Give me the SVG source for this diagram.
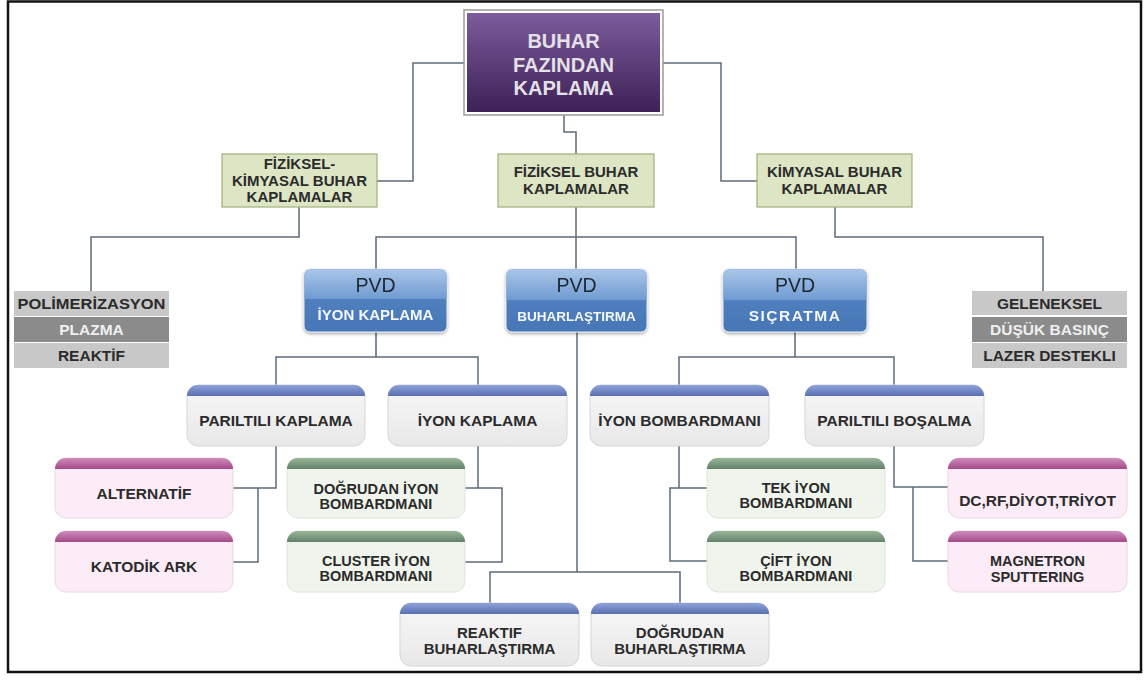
<svg xmlns="http://www.w3.org/2000/svg" width="1145" height="684" viewBox="0 0 1145 684">
<defs>
<linearGradient id="gPurple" x1="0" y1="0" x2="0" y2="1"><stop offset="0" stop-color="#7c5c9c"/><stop offset="1" stop-color="#3e2157"/></linearGradient>
<linearGradient id="gPvdTop" x1="0" y1="0" x2="0" y2="1"><stop offset="0" stop-color="#a9c5e8"/><stop offset="1" stop-color="#6f9bd2"/></linearGradient>
<linearGradient id="gPvdBot" x1="0" y1="0" x2="0" y2="1"><stop offset="0" stop-color="#5888c6"/><stop offset="1" stop-color="#4776b6"/></linearGradient>
<linearGradient id="gBody" x1="0" y1="0" x2="0" y2="1"><stop offset="0" stop-color="#f7f7f7"/><stop offset="1" stop-color="#e8e8e8"/></linearGradient>
<linearGradient id="gBlue" x1="0" y1="0" x2="0" y2="1"><stop offset="0" stop-color="#8ea2da"/><stop offset="1" stop-color="#5a6fb0"/></linearGradient>
<linearGradient id="gPink" x1="0" y1="0" x2="0" y2="1"><stop offset="0" stop-color="#cf8bbd"/><stop offset="1" stop-color="#a44a88"/></linearGradient>
<linearGradient id="gGreen" x1="0" y1="0" x2="0" y2="1"><stop offset="0" stop-color="#98b598"/><stop offset="1" stop-color="#62826a"/></linearGradient>
<filter id="sh" x="-10%" y="-10%" width="120%" height="130%"><feDropShadow dx="0" dy="1.5" stdDeviation="1.5" flood-color="#000" flood-opacity="0.35"/></filter>
<style>
text{font-family:"Liberation Sans",Arial,sans-serif;font-weight:bold;text-anchor:middle;fill:#2b2b2b}
.t20{font-size:20px;fill:#e4e2e8}
.t15{font-size:15.5px}
.t14{font-size:14.5px}
.pvd{font-size:19.5px;font-weight:normal;fill:#1b2533}
.sub{fill:#f4f7fb}
.green{fill:#dde6c4;stroke:#a0b078;stroke-width:1.2}
.lg{fill:#c8c8c8}
.dg{fill:#8b8b8b}
.lt{fill:#f0f0f0}
.body{fill:url(#gBody);stroke:#d5d5d5;stroke-width:1}
.pbody{fill:#fcecf8;stroke:#ead8e4;stroke-width:1}
.gbody{fill:#eff5ec;stroke:#dde6da;stroke-width:1}
.sb{fill:url(#gBlue)}
.sp{fill:url(#gPink)}
.sg{fill:url(#gGreen)}
.pvdbox{fill:url(#gPvdBot);stroke:#e4ecf6;stroke-width:1}
.conn path{fill:none;stroke:#5c6b7a;stroke-width:1.5}
</style>
</defs>
<rect x="0" y="0" width="1145" height="684" fill="#fff"/>
<rect x="8" y="1.5" width="1133" height="670.5" fill="none" stroke="#111" stroke-width="2.5"/>

<g class="conn" id="connectors">
<path d="M464,63 H413 V181 H377"/>
<path d="M663,63 H721 V181 H757"/>
<path d="M564,115 V132 H576 V154"/>
<path d="M299,207 V237 H91 V291"/>
<path d="M576,207 V269 M376,269 V237 H796 V269"/>
<path d="M835,207 V237 H1043 V291"/>
<path d="M376,332 V357 M276,385 V357 H478 V385"/>
<path d="M795,332 V357 M679,385 V357 H894 V385"/>
<path d="M577,332 V572 M490,603 V572 H680 V603"/>
<path d="M276,446 V488 H233 M258,488 V562 H233"/>
<path d="M478,446 V488 H465 M478,488 H502 V562 H465"/>
<path d="M679,446 V488 H707 M679,488 H670 V561 H707"/>
<path d="M894,446 V487 H948 M913,487 V561 H948"/>
</g>

<g id="root">
<rect x="464" y="10" width="199" height="105" fill="#fff" stroke="#9a9a9a" stroke-width="1.5"/>
<rect x="467" y="13" width="193" height="99" fill="url(#gPurple)"/>
<text class="t20" x="563.5" y="48">BUHAR</text>
<text class="t20" x="563.5" y="72">FAZINDAN</text>
<text class="t20" x="563.5" y="95">KAPLAMA</text>
</g>

<g id="fizkim">
<rect class="green" x="222" y="154" width="155" height="53"/>
<text class="t15" x="299.5" y="169" style="font-size:15px">FİZİKSEL-</text>
<text class="t15" x="299.5" y="186" style="font-size:15px">KİMYASAL BUHAR</text>
<text class="t15" x="299.5" y="202" style="font-size:15px">KAPLAMALAR</text>
</g>
<g id="fizbuhar">
<rect class="green" x="498" y="154" width="156" height="53"/>
<text class="t15" x="576" y="177" style="font-size:15px">FİZİKSEL BUHAR</text>
<text class="t15" x="576" y="194" style="font-size:15px">KAPLAMALAR</text>
</g>
<g id="kimbuhar">
<rect class="green" x="757" y="154" width="155" height="53"/>
<text class="t15" x="834.5" y="177" style="font-size:15px">KİMYASAL BUHAR</text>
<text class="t15" x="834.5" y="194" style="font-size:15px">KAPLAMALAR</text>
</g>

<g id="leftlist">
<rect class="lg" x="14" y="291" width="155" height="25"/>
<rect class="dg" x="14" y="317" width="155" height="25"/>
<rect class="lg" x="14" y="343" width="155" height="25"/>
<text class="t15" x="91.5" y="309" textLength="148" lengthAdjust="spacingAndGlyphs">POLİMERİZASYON</text>
<text class="t15 lt" x="91.5" y="335">PLAZMA</text>
<text class="t15" x="91.5" y="361">REAKTİF</text>
</g>
<g id="rightlist">
<rect class="lg" x="972" y="291" width="155" height="24"/>
<rect class="dg" x="972" y="317" width="155" height="25"/>
<rect class="lg" x="972" y="343" width="155" height="25"/>
<text class="t15" x="1049.5" y="309">GELENEKSEL</text>
<text class="t15 lt" x="1049.5" y="335">DÜŞÜK BASINÇ</text>
<text class="t15" x="1049.5" y="361">LAZER DESTEKLI</text>
</g>

<g id="pvd1" filter="url(#sh)">
<rect class="pvdbox" x="304" y="269" width="143" height="63" rx="6"/>
<path d="M304.5,299 V275 A5.5 5.5 0 0 1 310,269.5 H441 A5.5 5.5 0 0 1 446.5,275 V299 Z" fill="url(#gPvdTop)"/>
<text class="pvd" x="375.5" y="292">PVD</text>
<text class="sub" x="375.5" y="320" style="font-size:15px">İYON KAPLAMA</text>
</g>
<g id="pvd2" filter="url(#sh)">
<rect class="pvdbox" x="506" y="269" width="141" height="63" rx="6"/>
<path d="M506.5,300 V275 A5.5 5.5 0 0 1 512,269.5 H641 A5.5 5.5 0 0 1 646.5,275 V300 Z" fill="url(#gPvdTop)"/>
<text class="pvd" x="576.5" y="292">PVD</text>
<text class="sub" x="576.5" y="321" style="font-size:13.5px">BUHARLAŞTIRMA</text>
</g>
<g id="pvd3" filter="url(#sh)">
<rect class="pvdbox" x="723" y="269" width="144" height="63" rx="6"/>
<path d="M723.5,300 V275 A5.5 5.5 0 0 1 729,269.5 H861 A5.5 5.5 0 0 1 866.5,275 V300 Z" fill="url(#gPvdTop)"/>
<text class="pvd" x="795" y="292">PVD</text>
<text class="sub" x="795" y="321" style="font-size:15.5px;letter-spacing:1.5px">SIÇRATMA</text>
</g>

<g id="parkap">
<rect class="body" x="187" y="385" width="178" height="61" rx="11"/>
<path class="sb" d="M187,396 A11 11 0 0 1 198,385 H354 A11 11 0 0 1 365,396 Z"/>
<text class="t15" x="276" y="426">PARILTILI KAPLAMA</text>
</g>
<g id="iyonkap">
<rect class="body" x="388" y="385" width="179" height="61" rx="11"/>
<path class="sb" d="M388,396 A11 11 0 0 1 399,385 H556 A11 11 0 0 1 567,396 Z"/>
<text class="t15" x="477.5" y="426">İYON KAPLAMA</text>
</g>
<g id="iyonbom">
<rect class="body" x="590" y="385" width="179" height="61" rx="11"/>
<path class="sb" d="M590,396 A11 11 0 0 1 601,385 H758 A11 11 0 0 1 769,396 Z"/>
<text class="t15" x="679.5" y="426">İYON BOMBARDMANI</text>
</g>
<g id="parbos">
<rect class="body" x="805" y="385" width="179" height="61" rx="11"/>
<path class="sb" d="M805,396 A11 11 0 0 1 816,385 H973 A11 11 0 0 1 984,396 Z"/>
<text class="t15" x="894.5" y="426">PARILTILI BOŞALMA</text>
</g>

<g id="alternatif">
<rect class="pbody" x="55" y="458" width="178" height="60" rx="11"/>
<path class="sp" d="M55,469 A11 11 0 0 1 66,458 H222 A11 11 0 0 1 233,469 Z"/>
<text class="t15" x="144" y="499">ALTERNATİF</text>
</g>
<g id="katodik">
<rect class="pbody" x="55" y="531" width="178" height="61" rx="11"/>
<path class="sp" d="M55,542 A11 11 0 0 1 66,531 H222 A11 11 0 0 1 233,542 Z"/>
<text class="t15" x="144" y="572">KATODİK ARK</text>
</g>
<g id="dogrudaniyon">
<rect class="gbody" x="287" y="458" width="178" height="60" rx="11"/>
<path class="sg" d="M287,469 A11 11 0 0 1 298,458 H454 A11 11 0 0 1 465,469 Z"/>
<text class="t14" x="376" y="494">DOĞRUDAN İYON</text>
<text class="t14" x="376" y="509">BOMBARDMANI</text>
</g>
<g id="cluster">
<rect class="gbody" x="287" y="531" width="178" height="61" rx="11"/>
<path class="sg" d="M287,542 A11 11 0 0 1 298,531 H454 A11 11 0 0 1 465,542 Z"/>
<text class="t14" x="376" y="566">CLUSTER İYON</text>
<text class="t14" x="376" y="581">BOMBARDMANI</text>
</g>
<g id="tekiyon">
<rect class="gbody" x="707" y="458" width="178" height="60" rx="11"/>
<path class="sg" d="M707,469 A11 11 0 0 1 718,458 H874 A11 11 0 0 1 885,469 Z"/>
<text class="t14" x="796" y="493">TEK İYON</text>
<text class="t14" x="796" y="508">BOMBARDMANI</text>
</g>
<g id="ciftiyon">
<rect class="gbody" x="707" y="531" width="178" height="61" rx="11"/>
<path class="sg" d="M707,542 A11 11 0 0 1 718,531 H874 A11 11 0 0 1 885,542 Z"/>
<text class="t14" x="796" y="566">ÇİFT İYON</text>
<text class="t14" x="796" y="581">BOMBARDMANI</text>
</g>
<g id="dcrf">
<rect class="pbody" x="948" y="458" width="179" height="60" rx="11"/>
<path class="sp" d="M948,469 A11 11 0 0 1 959,458 H1116 A11 11 0 0 1 1127,469 Z"/>
<text x="1037.5" y="506" style="font-size:15.5px">DC,RF,DİYOT,TRİYOT</text>
</g>
<g id="magnetron">
<rect class="pbody" x="948" y="531" width="179" height="61" rx="11"/>
<path class="sp" d="M948,542 A11 11 0 0 1 959,531 H1116 A11 11 0 0 1 1127,542 Z"/>
<text class="t14" x="1037.5" y="566">MAGNETRON</text>
<text class="t14" x="1037.5" y="582">SPUTTERING</text>
</g>

<g id="reaktifbuh">
<rect class="body" x="400" y="603" width="179" height="63" rx="11"/>
<path class="sb" d="M400,614 A11 11 0 0 1 411,603 H568 A11 11 0 0 1 579,614 Z"/>
<text class="t15" x="489.5" y="638" style="font-size:15px">REAKTIF</text>
<text class="t15" x="489.5" y="654" style="font-size:15px">BUHARLAŞTIRMA</text>
</g>
<g id="dogrudanbuh">
<rect class="body" x="591" y="603" width="178" height="63" rx="11"/>
<path class="sb" d="M591,614 A11 11 0 0 1 602,603 H758 A11 11 0 0 1 769,614 Z"/>
<text class="t15" x="680" y="638" style="font-size:15px">DOĞRUDAN</text>
<text class="t15" x="680" y="654" style="font-size:15px">BUHARLAŞTIRMA</text>
</g>
</svg>
